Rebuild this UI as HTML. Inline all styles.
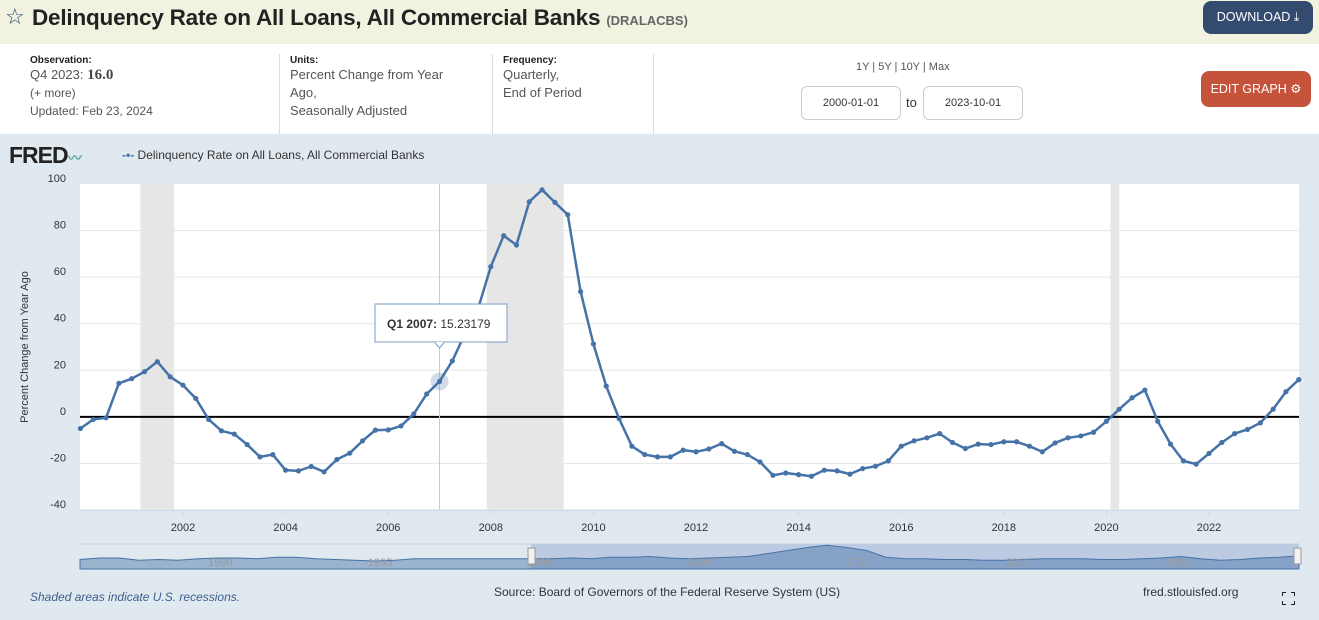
<!DOCTYPE html>
<html><head><meta charset="utf-8">
<style>
*{margin:0;padding:0;box-sizing:border-box}
body{width:1319px;height:620px;overflow:hidden;font-family:"Liberation Sans","DejaVu Sans",sans-serif;background:#e1e9f0;position:relative}
.abs{position:absolute}
#hdr{left:0;top:0;width:1319px;height:44px;background:#f1f2e0}
#info{left:0;top:44px;width:1319px;height:90px;background:#fff}
.lbl{font-size:10px;font-weight:bold;color:#222}
.val{font-size:13px;color:#555;line-height:18px}
.btn{color:#fff;font-size:12.5px;border-radius:8px;text-align:center}
.dbox{width:100px;height:34px;border:1px solid #ccc;border-radius:6px;font-size:11px;color:#333;text-align:center;line-height:32px;background:#fff}
</style></head><body>
<div id="hdr" class="abs"></div>
<div class="abs" style="left:5px;top:4px;font-size:22px;color:#2c4c80">☆</div>
<div class="abs" style="left:32px;top:5px;font-size:22.5px;font-weight:bold;color:#222;letter-spacing:-0.2px">Delinquency Rate on All Loans, All Commercial Banks <span style="font-size:13px;color:#666;letter-spacing:0">(DRALACBS)</span></div>
<div class="abs btn" style="left:1203px;top:1px;width:110px;height:33px;background:#334b6e;line-height:33px">DOWNLOAD ⤓</div>
<div id="info" class="abs"></div>
<div class="abs" style="left:30px;top:55px">
<div class="lbl">Observation:</div>
<div class="val">Q4 2023: <b style="font-family:'Liberation Serif',serif;font-size:15px;color:#444">16.0</b></div>
<div class="val" style="font-size:12px">(+ more)</div>
<div class="val" style="font-size:12px">Updated: Feb 23, 2024</div></div>
<div class="abs" style="left:279px;top:54px;width:1px;height:80px;background:#ddd"></div>
<div class="abs" style="left:290px;top:55px">
<div class="lbl">Units:</div>
<div class="val">Percent Change from Year<br>Ago,<br>Seasonally Adjusted</div></div>
<div class="abs" style="left:492px;top:54px;width:1px;height:80px;background:#ddd"></div>
<div class="abs" style="left:503px;top:55px">
<div class="lbl">Frequency:</div>
<div class="val">Quarterly,<br>End of Period</div></div>
<div class="abs" style="left:653px;top:54px;width:1px;height:80px;background:#ddd"></div>
<div class="abs" style="left:856px;top:61px;font-size:11px;color:#555">1Y | 5Y | 10Y | Max</div>
<div class="abs dbox" style="left:801px;top:86px">2000-01-01</div>
<div class="abs" style="left:906px;top:95px;font-size:13px;color:#333">to</div>
<div class="abs dbox" style="left:923px;top:86px">2023-10-01</div>
<div class="abs btn" style="left:1201px;top:71px;width:110px;height:36px;background:#c5533b;line-height:36px">EDIT GRAPH ⚙</div>
<div class="abs" style="left:9px;top:142px;font-size:23px;font-weight:bold;color:#222;letter-spacing:-1px">FRED<span style="font-size:14px;color:#6a9">〰</span></div>
<div class="abs" style="left:122px;top:148px;font-size:12px;color:#333"><span style="color:#4572a7;font-weight:bold">-•-</span> Delinquency Rate on All Loans, All Commercial Banks</div>
<svg id="chart" class="abs" style="left:0;top:0" width="1319" height="620"></svg>
<div class="abs" style="left:30px;top:590px;font-size:12px;font-style:italic;color:#3d5e8c">Shaded areas indicate U.S. recessions.</div>
<div class="abs" style="left:494px;top:585px;font-size:12px;color:#333">Source: Board of Governors of the Federal Reserve System (US)</div>
<div class="abs" style="left:1143px;top:585px;font-size:12px;color:#333">fred.stlouisfed.org</div>
<svg class="abs" style="left:1282px;top:592px" width="13" height="13"><path d="M0,4V0H4M9,0H13V4M13,9V13H9M4,13H0V9" fill="none" stroke="#222" stroke-width="2"/></svg>
<script>
const values=[-5,-1.1,-0.4,14.4,16.4,19.4,23.7,17.2,13.6,7.9,-1.1,-6,-7.4,-11.9,-17.2,-16.2,-22.9,-23.2,-21.3,-23.6,-18.3,-15.6,-10.3,-5.7,-5.6,-3.9,1.3,9.8,15.2,24,35.9,46.3,
64.5,77.8,73.8,92.4,97.5,92.1,86.8,53.8,31.3,13.2,-0.7,-12.6,-16.2,-17.2,-17.2,-14.3,-15,-13.8,-11.5,-14.8,-16.2,-19.4,-25.1,-24.1,-24.8,-25.5,-22.9,-23.2,-24.6,-22.2,-21.2,-18.9,
-12.6,-10.3,-9,-7.2,-11,-13.6,-11.7,-11.9,-10.7,-10.7,-12.6,-15,-11.2,-9,-8.2,-6.6,-1.9,3.3,8.2,11.5,-1.9,-11.7,-18.9,-20.3,-15.7,-11,-7.2,-5.4,-2.6,3.3,10.8,16.0];
const startYear=2000;
const yTicks=[100,80,60,40,20,0,-20,-40];
const xTicks=[2002,2004,2006,2008,2010,2012,2014,2016,2018,2020,2022];
const recessions=[[2001.17,2001.83],[2007.92,2009.42],[2020.08,2020.25]];
const navValues=[2,4,4,1,2,1,3,4,4,3,5,5,3,2,1,0,1,3,3,3,3,3,3,3,3,4,3,5,5,6,4,3,4,5,6,10,14,18,21,18,14,5,3,3,2,2,1,1,2,3,3,3,2,2,3,4,6,3,1,2,4,5,7];
const navLabels=[1990,1995,2000,2005,2010,2015,2020];
const navStart=1985.6, navEnd=2023.8;
const NS='http://www.w3.org/2000/svg';
const svg=document.getElementById('chart');
const X0=80.4,X1=1298.8,Y0=184,Y1=510,VMIN=-40,VMAX=100;
function xs(t){return X0+(t-startYear)/(23.75)*(X1-X0);}
function ys(v){return Y1-(v-VMIN)/(VMAX-VMIN)*(Y1-Y0);}
function mk(tag,attrs,parent){const e=document.createElementNS(NS,tag);for(const k in attrs)e.setAttribute(k,attrs[k]);(parent||svg).appendChild(e);return e;}
let r=mk('rect',{x:80,y:Y0,width:1219,height:Y1-Y0,fill:'#fff'});


recessions.forEach(rc=>{const e=mk('rect',{x:xs(rc[0]),y:Y0,width:xs(rc[1])-xs(rc[0]),height:Y1-Y0,fill:'#e6e6e6'});

});
yTicks.forEach(v=>{if(v!==VMAX){const g=mk('line',{x1:80,x2:1299,y1:ys(v),y2:ys(v),stroke:'#e6e6e6'});

}
const t=mk('text',{x:66,y:ys(v)-2,'text-anchor':'end','font-size':11,fill:'#333'});t.textContent=v;

});
const zl=mk('line',{x1:80,x2:1299,y1:ys(0),y2:ys(0),stroke:'#000','stroke-width':2});


mk('line',{x1:80,x2:1299,y1:Y1+0.5,y2:Y1+0.5,stroke:'#ccd6eb'});
xTicks.forEach(y=>{mk('line',{x1:xs(y),x2:xs(y),y1:Y1,y2:Y1+5,stroke:'#ccd6eb'});
const t=mk('text',{x:xs(y),y:531,'text-anchor':'middle','font-size':11,fill:'#333'});t.textContent=y;

});
const yt=mk('text',{x:0,y:0,'font-size':11,fill:'#333','text-anchor':'middle',transform:'translate(28,347) rotate(-90)'});yt.textContent='Percent Change from Year Ago';


const hx=xs(2007);
mk('line',{x1:hx,x2:hx,y1:Y0,y2:Y1,stroke:'#ccc'});
const pts=values.map((v,i)=>[xs(startYear+i/4),ys(v)]);
const line=mk('polyline',{points:pts.map(p=>p.join(',')).join(' '),fill:'none',stroke:'#4572a7','stroke-width':2.5,'stroke-linejoin':'round'});


pts.forEach(p=>{const c=mk('circle',{cx:p[0],cy:p[1],r:2.6,fill:'#4572a7'});

});
const hi=values[28];
mk('circle',{cx:hx,cy:ys(hi),r:9,fill:'rgba(69,114,167,0.25)'});
const tg=mk('g',{});


mk('rect',{x:375,y:304,width:132,height:38,fill:'#fff',stroke:'#7a9cc6','stroke-width':1},tg);
mk('path',{d:`M${hx-5},342 L${hx},348 L${hx+5},342`,fill:'#fff',stroke:'#7a9cc6'},tg);
const tt=mk('text',{x:387,y:328,'font-size':12,fill:'#333'},tg);
tt.innerHTML='<tspan font-weight="bold">Q1 2007:</tspan> 15.23179';
const NY0=544,NY1=569;
mk('rect',{x:80,y:NY0,width:1219,height:NY1-NY0,fill:'#e1e9f0'});
mk('line',{x1:80,x2:1299,y1:NY0,y2:NY0,stroke:'#ccc'});
mk('rect',{x:531,y:NY0,width:768,height:NY1-NY0,fill:'#bccbe2'});
const nx=i=>80+i/(navValues.length-1)*1219;
let d='M80,'+NY1;navValues.forEach((v,i)=>{d+=' L'+nx(i)+','+(NY1-8-v*0.75);});d+=' L1299,'+NY1+' Z';
const na=mk('path',{d:d,fill:'rgba(69,114,167,0.45)',stroke:'#4572a7','stroke-width':1});


navLabels.forEach(yr=>{
const xx=80+(yr-navStart)/(navEnd-navStart)*1219;
const t=mk('text',{x:xx,y:566,'text-anchor':'middle','font-size':11,fill:'#999'});t.textContent=yr;

});
[531,1297].forEach(x=>{const h=mk('rect',{x:x-3,y:548,width:7,height:16,fill:'#f2f2f2',stroke:'#999'});

});
</script>
</body></html>
